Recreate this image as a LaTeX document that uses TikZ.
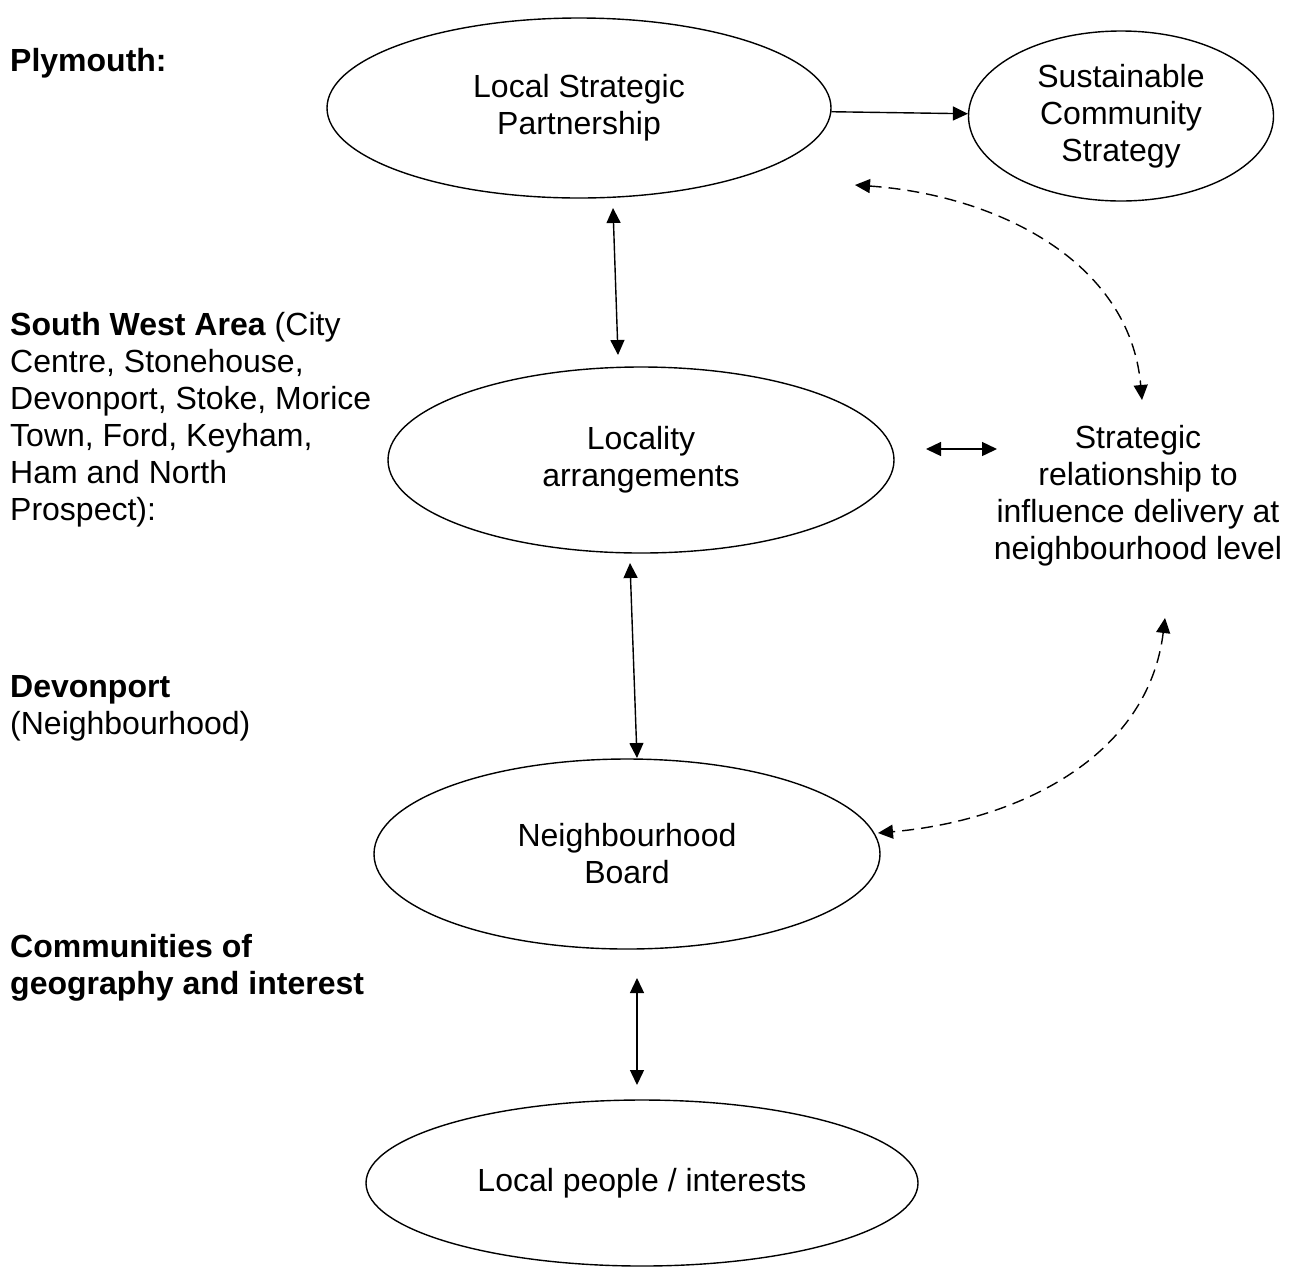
\documentclass[tikz,border=0pt]{standalone}
\usepackage{fontspec}
\setmainfont{Liberation Sans}
\usepackage{tikz}
\usetikzlibrary{arrows.meta,shapes.geometric}

\begin{document}
\begin{tikzpicture}[x=1pt,y=-1pt,
  every node/.style={font=\fontsize{32}{37}\selectfont,align=center},
  oval/.style={ellipse,draw,line width=1.4pt,inner sep=0pt},
  lvl/.style={anchor=north west,align=left,inner sep=0pt},
  >={Triangle[length=15pt,width=14pt]},
  arr/.style={line width=1.4pt},
  darr/.style={line width=1.4pt,dash pattern=on 12pt off 7pt}]
  \useasboundingbox (0,0) rectangle (1300,1270);
  % levels on the left
  \node[anchor=base west,inner sep=0pt] (plym) at (10,71) {\textbf{Plymouth:}};
  \node[lvl] (swa) at (10,312) {\textbf{South West Area} (City\\Centre, Stonehouse,\\Devonport, Stoke, Morice\\Town, Ford, Keyham,\\Ham and North\\Prospect):};
  \node[lvl] (dev) at (10,675) {\textbf{Devonport}\\(Neighbourhood)};
  \node[lvl] (comm) at (10,934) {\textbf{Communities of}\\\textbf{geography and interest}};
  % bodies
  \node[oval,minimum width=504pt,minimum height=180pt] (lsp) at (579,108) {Local Strategic\\Partnership};
  \node[oval,minimum width=305pt,minimum height=170pt] (scs) at (1121,116) {Sustainable\\Community\\Strategy};
  \node[oval,minimum width=506pt,minimum height=186pt] (loc) at (641,460) {Locality\\arrangements};
  \node[oval,minimum width=506pt,minimum height=190pt] (nb) at (627,854) {Neighbourhood\\Board};
  \node[oval,minimum width=552pt,minimum height=166pt] (ppl) at (642,1183) {Local people / interests};
  \node (strat) at (1138,496) {Strategic\\relationship to\\influence delivery at\\neighbourhood level};
  % arrow ends
  \coordinate (lspS) at (613,208);  \coordinate (locN) at (618,355);
  \coordinate (locS) at (630,563);  \coordinate (nbN) at (637,758);
  \coordinate (nbS) at (637,978);   \coordinate (pplN) at (637,1085);
  \coordinate (locE) at (926,449);  \coordinate (stratW) at (997,449);
  \coordinate (lspSE) at (855,185); \coordinate (stratN) at (1142,400);
  \coordinate (stratS) at (1165,618); \coordinate (nbE) at (878,833);
  % links
  \draw[arr,->] (lsp) -- (scs);
  \draw[arr,<->] (lspS) -- (locN);
  \draw[arr,<->] (locS) -- (nbN);
  \draw[arr,<->] (nbS) -- (pplN);
  \draw[arr,<->] (locE) -- (stratW);
  \draw[darr,<->] (lspSE) to[out=-4,in=95] (stratN);
  \draw[darr,<->] (stratS) to[out=-97,in=5] (nbE);
\end{tikzpicture}
\end{document}
